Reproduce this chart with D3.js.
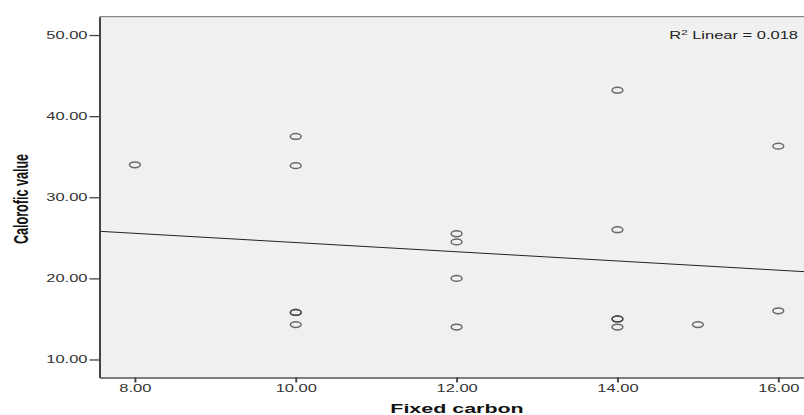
<!DOCTYPE html>
<html>
<head>
<meta charset="utf-8">
<script src="https://cdn.jsdelivr.net/npm/d3@7"></script>
<style>
  body { margin:0; background:#fff; }
  svg text { font-family: "Liberation Sans", Arial, sans-serif; }
</style>
</head>
<body>
<svg id="chart" width="804" height="415"></svg>
<script>
// data
var fixedCarbon = [8,10,10,10,10,10,12,12,12,12,14,14,14,14,14,15,16,16];
var calorific   = [34.0,37.5,33.9,15.8,15.8,14.3,25.5,24.5,20.0,14.0,43.2,26.0,15.0,15.0,14.0,14.3,36.3,16.0];
var xTicks = [8,10,12,14,16];
var yTicks = [10,20,30,40,50];
var r2Text = "0.018";

var sx = 1.65; // the source is stretched sideways

var svg = d3.select("#chart");
var pLeft = 99.5, pRight = 813.7, pTop = 16.7, pBottom = 377.5;

var x = d3.scaleLinear().domain([7.56,16.44]).range([pLeft,pRight]);
var y = d3.scaleLinear().domain([7.78,52.26]).range([pBottom,pTop]);

svg.append("rect")
	.attr("x",pLeft).attr("y",pTop)
	.attr("width",pRight-pLeft).attr("height",pBottom-pTop)
	.attr("fill","#f0f0f0");

// least squares fit line
var mx = d3.mean(fixedCarbon), my = d3.mean(calorific);
var sxy=0, sxx=0;
for(var i=0;i<fixedCarbon.length;i++){
	sxy += (fixedCarbon[i]-mx)*(calorific[i]-my);
	sxx += (fixedCarbon[i]-mx)*(fixedCarbon[i]-mx);
}
var slope = sxy/sxx, icpt = my - slope*mx;
var xd = x.domain();
svg.append("line")
	.attr("x1",x(xd[0])).attr("y1",y(icpt+slope*xd[0]))
	.attr("x2",x(xd[1])).attr("y2",y(icpt+slope*xd[1]))
	.attr("stroke","#222").attr("stroke-width",1);

svg.append("g").selectAll("ellipse")
	.data(fixedCarbon.map(function(d,i){ return [d,calorific[i]]; }))
	.join("ellipse")
	.attr("cx",d => x(d[0])).attr("cy",d => y(d[1]))
	.attr("rx",5.4).attr("ry",2.9)
	.attr("fill","none").attr("stroke","#333").attr("stroke-opacity",0.72)
	.attr("stroke-width",1.5);

// frame line on top
svg.append("line").attr("x1",pLeft).attr("x2",pRight).attr("y1",pTop).attr("y2",pTop)
	.attr("stroke","#888").attr("stroke-width",1.3);

var yAxis = svg.append("g").attr("transform","translate("+pLeft+",0)")
	.call(d3.axisLeft(y).tickValues(yTicks).tickFormat(d3.format(".2f")).tickSize(10).tickPadding(2).tickSizeOuter(0));
var xAxis = svg.append("g").attr("transform","translate(0,"+pBottom+")")
	.call(d3.axisBottom(x).tickValues(xTicks).tickFormat(d3.format(".2f")).tickSize(5).tickPadding(4).tickSizeOuter(0));

yAxis.select(".domain").attr("stroke","#444").attr("stroke-width",2);
xAxis.select(".domain").attr("stroke","#555").attr("stroke-width",1.4);
yAxis.selectAll(".tick line").attr("stroke","#444").attr("stroke-width",1.3);
xAxis.selectAll(".tick line").attr("stroke","#444").attr("stroke-width",2);

yAxis.selectAll(".tick text")
	.attr("x",null)
	.attr("transform","translate(-12,0) scale("+sx+",1)")
	.attr("font-size",10).attr("fill","#333");
xAxis.selectAll(".tick text")
	.attr("y",null).attr("dy",null)
	.attr("transform","translate(0,14.5) scale("+sx+",1)")
	.attr("font-size",10).attr("fill","#333");

// titles
svg.append("text")
	.attr("transform","translate(457,412.5) scale("+sx+",1)")
	.attr("text-anchor","middle").attr("font-size",13).attr("font-weight","bold")
	.attr("fill","#111").text("Fixed carbon");

svg.append("text")
	.attr("transform","translate(28,199) scale("+sx+",1) rotate(-90)")
	.attr("text-anchor","middle").attr("font-size",12.6).attr("font-weight","bold")
	.attr("fill","#111").text("Calorofic value");

var r2 = svg.append("text")
	.attr("transform","translate(798,39) scale("+sx+",1)")
	.attr("text-anchor","end").attr("font-size",10).attr("fill","#222");
r2.append("tspan").text("R");
r2.append("tspan").attr("font-size",7).attr("dy",-4).text("2");
r2.append("tspan").attr("dy",4).text(" Linear = "+r2Text);
</script>
</body>
</html>
